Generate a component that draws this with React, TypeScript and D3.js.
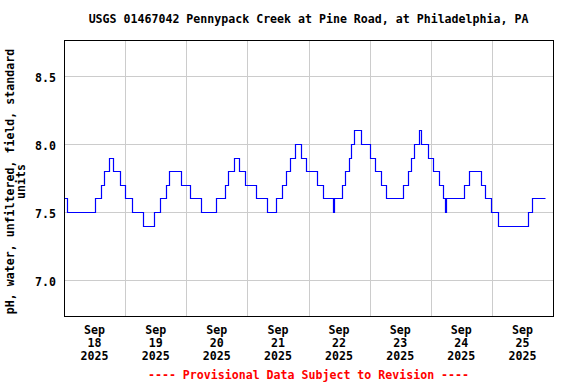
import React, { useEffect, useRef } from 'react';
import * as d3 from 'd3';

// hours since Sep 18 2025 00:00 at which the reading changes, and the new pH value
const changeHours = [
  0, 1.3, 12.3, 14.5, 15.9, 17.8, 19.1, 22.1, 23.8, 26.7, 30.9, 35.2, 37.7, 39.9, 41.2,
  45.8, 49.6, 53.8, 59.6, 63.1, 64.5, 66.8, 68.7, 71.0, 75.5, 79.9, 83.2, 85.6, 87.0,
  88.8, 90.8, 93.1, 95.1, 99.2, 101.5, 105.8, 106.2, 109.1, 110.2, 111.9, 112.5, 113.9,
  116.7, 120.1, 122.3, 124.4, 126.5, 133.3, 135.0, 136.4, 137.5, 139.3, 140.1, 142.8,
  145.0, 147.1, 148.7, 149.5, 150.1, 156.9, 159.1, 163.6, 165.2, 167.6, 170.5, 182.1,
  183.8, 188.7,
];
const changeValues = [
  7.6, 7.5, 7.6, 7.7, 7.8, 7.9, 7.8, 7.7, 7.6, 7.5, 7.4, 7.5, 7.6, 7.7, 7.8,
  7.7, 7.6, 7.5, 7.6, 7.7, 7.8, 7.9, 7.8, 7.7, 7.6, 7.5, 7.6, 7.7, 7.8,
  7.9, 8.0, 7.9, 7.8, 7.7, 7.6, 7.5, 7.6, 7.7, 7.8, 7.9, 8.0, 8.1,
  8.0, 7.9, 7.8, 7.7, 7.6, 7.7, 7.8, 7.9, 8.0, 8.1, 8.0, 7.9,
  7.8, 7.7, 7.6, 7.5, 7.6, 7.7, 7.8, 7.7, 7.6, 7.5, 7.4, 7.5,
  7.6, 7.6,
];
const dayLabels = ['18', '19', '20', '21', '22', '23', '24', '25'];
const yTicks = [7.0, 7.5, 8.0, 8.5];

const title = 'USGS 01467042 Pennypack Creek at Pine Road, at Philadelphia, PA';
const yLabel1 = 'pH, water, unfiltered, field, standard';
const yLabel2 = 'units';
const footer = '---- Provisional Data Subject to Revision ----';

const W = 576;
const H = 384;
const font = '"DejaVu Sans Mono", monospace';

export default function App() {
  const svgRef = useRef<SVGSVGElement>(null);

  useEffect(() => {
    document.body.style.margin = '0';
    if (!svgRef.current) return;
    const svg = d3.select(svgRef.current);
    svg.selectAll('*').remove();

    const left = 64, right = 553, top = 40, bottom = 316;
    const start = new Date(2025, 8, 18);
    const end = new Date(2025, 8, 26);
    const x = d3.scaleTime().domain([start, end]).range([left, right]);
    const y = d3.scaleLinear().domain([6.74, 8.76]).range([bottom, top]);
    const py = (v: number) => Math.round(y(v)) + 0.5;

    const data = changeHours.map((h, i) => ({
      t: new Date(start.getTime() + h * 3600 * 1000),
      v: changeValues[i],
    }));

    svg.append('rect').attr('width', W).attr('height', H).attr('fill', '#fff');

    // grid
    const days = d3.timeDay.range(d3.timeDay.offset(start, 1), end);
    svg.append('g').selectAll('line').data(days).join('line')
      .attr('x1', d => Math.round(x(d)) + 0.5).attr('x2', d => Math.round(x(d)) + 0.5)
      .attr('y1', top).attr('y2', bottom)
      .attr('stroke', '#cccccc').attr('stroke-width', 1).attr('shape-rendering', 'crispEdges');
    svg.append('g').selectAll('line').data(yTicks).join('line')
      .attr('x1', left).attr('x2', right)
      .attr('y1', d => py(d)).attr('y2', d => py(d))
      .attr('stroke', '#cccccc').attr('stroke-width', 1).attr('shape-rendering', 'crispEdges');

    // series
    const line = d3.line<{ t: Date; v: number }>()
      .x(d => Math.round(x(d.t)) + 0.5)
      .y(d => py(d.v))
      .curve(d3.curveStepAfter);
    svg.append('path').datum(data)
      .attr('d', line)
      .attr('fill', 'none')
      .attr('stroke', '#0000ff')
      .attr('stroke-width', 1.2);

    // frame
    svg.append('rect')
      .attr('x', left + 0.5).attr('y', top + 0.5)
      .attr('width', right - left).attr('height', bottom - top)
      .attr('fill', 'none').attr('stroke', '#000').attr('stroke-width', 1.5)
      .attr('shape-rendering', 'crispEdges');

    const txt = (sel: d3.Selection<any, any, any, any>) =>
      sel.attr('font-family', font).attr('font-weight', 'bold').attr('font-size', 11.6).attr('fill', '#000');

    // y tick labels
    svg.append('g').selectAll('text').data(yTicks).join('text')
      .call(txt)
      .attr('x', left - 8).attr('y', d => y(d) + 6)
      .attr('text-anchor', 'end')
      .text(d => d.toFixed(1));

    // x tick labels, at noon of each day
    const xl = svg.append('g').selectAll('g').data(dayLabels).join('g')
      .attr('transform', (d, i) => `translate(${x(d3.timeHour.offset(d3.timeDay.offset(start, i), 12))},0)`);
    xl.append('text').call(txt).attr('text-anchor', 'middle').attr('y', 334).text('Sep');
    xl.append('text').call(txt).attr('text-anchor', 'middle').attr('y', 347).text(d => d);
    xl.append('text').call(txt).attr('text-anchor', 'middle').attr('y', 360).text('2025');

    // title
    svg.append('text').call(txt)
      .attr('x', (left + right) / 2).attr('y', 23).attr('text-anchor', 'middle')
      .text(title);

    // y axis label
    const cy = 181.5;
    svg.append('text').call(txt)
      .attr('transform', `translate(13.5,${cy}) rotate(-90)`)
      .attr('text-anchor', 'middle').text(yLabel1);
    svg.append('text').call(txt)
      .attr('transform', `translate(25,${cy}) rotate(-90)`)
      .attr('text-anchor', 'middle').text(yLabel2);

    // footer
    svg.append('text').call(txt)
      .attr('x', (left + right) / 2).attr('y', 379).attr('text-anchor', 'middle')
      .attr('fill', '#ff0000')
      .text(footer);
  }, []);

  return <svg ref={svgRef} width={W} height={H} style={{ display: 'block' }} />;
}
